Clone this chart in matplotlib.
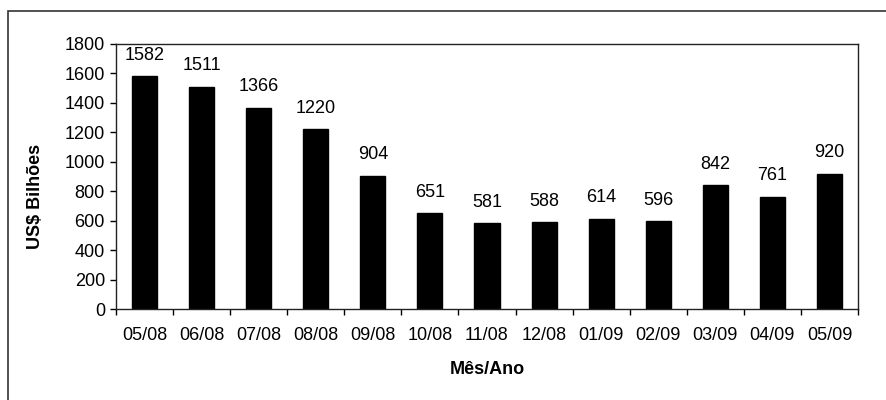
import numpy as np
import matplotlib
matplotlib.use("Agg")
import matplotlib.pyplot as plt
from matplotlib.patches import Rectangle

plt.rcParams.update({
    "font.family": ["Liberation Sans", "DejaVu Sans"],
    "font.size": 13,
})

meses = ["05/08", "06/08", "07/08", "08/08", "09/08", "10/08", "11/08",
         "12/08", "01/09", "02/09", "03/09", "04/09", "05/09"]
valores = [1582, 1511, 1366, 1220, 904, 651, 581, 588, 614, 596, 842, 761, 920]
yticks = [0, 200, 400, 600, 800, 1000, 1200, 1400, 1600, 1800]

W, H = 887, 400
fig = plt.figure(figsize=(W / 100, H / 100), dpi=100)
fig.patch.set_facecolor("white")

# outer chart frame (runs off the right and bottom edges)
fig.patches.append(Rectangle((8 / W, -0.1), 1.1, 1 - 11 / H + 0.1,
                             transform=fig.transFigure, fill=False,
                             edgecolor="#333333", linewidth=1.2))

ax = fig.add_axes([116 / W, 1 - 309 / H, (858 - 116) / W, (309 - 44) / H])
x = np.arange(len(meses))
ax.bar(x, valores, width=0.44, color="black", edgecolor="black")

for xi, v in zip(x, valores):
    ax.annotate(str(v), (xi, v), xytext=(0, 9), textcoords="offset points",
                ha="center", va="bottom", fontsize=13)

ax.set_xlim(-0.5, len(meses) - 0.5)
ax.set_ylim(0, 1800)
ax.set_yticks(yticks)
ax.set_xticks(x)
ax.set_xticklabels(meses)
ax.set_xticks(np.arange(-0.5, len(meses), 1.0), minor=True)
ax.tick_params(axis="x", which="major", length=0, pad=13)
ax.tick_params(axis="x", which="minor", length=4, direction="out", width=1)
ax.tick_params(axis="y", length=4, direction="out", width=1, pad=4)

for s in ax.spines.values():
    s.set_linewidth(1.0)
    s.set_color("#222222")

ax.set_ylabel("US$ Bilhões", fontweight="bold")
ax.yaxis.set_label_coords(-0.097, 0.423)
ax.set_xlabel("Mês/Ano", fontweight="bold", labelpad=12)

fig.savefig("out.png", dpi=100)
